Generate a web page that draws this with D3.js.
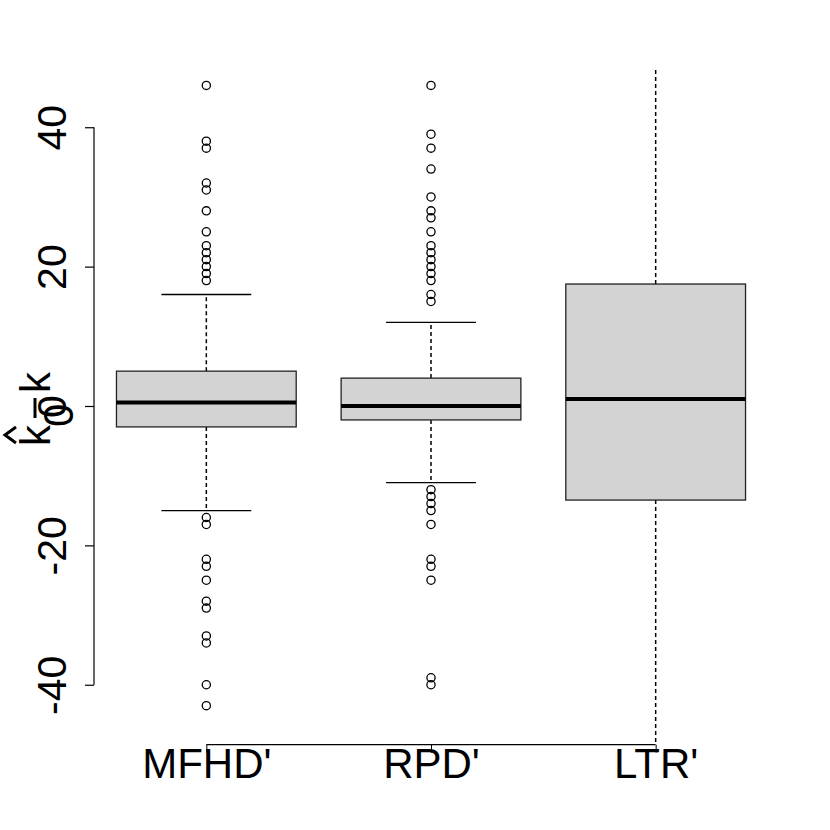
<!DOCTYPE html>
<html>
<head>
<meta charset="utf-8">
<script src="https://cdn.jsdelivr.net/npm/d3@7"></script>
<style>
  body { margin: 0; background: #fff; }
  svg { font-family: "Liberation Sans", Arial, Helvetica, sans-serif; }
</style>
</head>
<body>
<svg id="chart"></svg>
<script>
const categories = ["MFHD'", "RPD'", "LTR'"];
const q1 = [-3, -2, -13.5];
const medians = [0.5, 0, 1];
const q3 = [5, 4, 17.5];
const whiskerLow = [-15, -11, -60];
const whiskerHigh = [16, 12, 60];
const outliersMFHD = [46, 38, 37, 32, 31, 28, 25, 23, 22, 21, 20, 19, 18,
                      -16, -17, -22, -23, -25, -28, -29, -33, -34, -40, -43];
const outliersRPD = [46, 39, 37, 34, 30, 28, 27, 25, 23, 22, 21, 20, 19, 18, 16, 15,
                     -12, -13, -14, -15, -17, -22, -23, -25, -39, -40];
const outliersLTR = [];
const yTicks = [-40, -20, 0, 20, 40];

const outliers = [outliersMFHD, outliersRPD, outliersLTR];

const width = 830, height = 830;
const plot = {left: 94, right: 768, top: 67.3, bottom: 744.7};

const svg = d3.select("#chart")
    .attr("width", width)
    .attr("height", height);

const x = d3.scaleLinear()
    .domain([0.5, 3.5])
    .range([plot.left, plot.right]);

const y = d3.scaleLinear()
    .domain([-48.6, 48.6])
    .range([plot.bottom, plot.top]);

const boxW = x(1.4) - x(1);   // half box width (0.4 units)
const stapleW = boxW / 2;

svg.append("clipPath")
    .attr("id", "clip")
  .append("rect")
    .attr("x", plot.left)
    .attr("y", plot.top)
    .attr("width", plot.right - plot.left)
    .attr("height", plot.bottom - plot.top);

const boxes = svg.append("g").attr("clip-path", "url(#clip)");

categories.forEach((c, i) => {
    const cx = x(i + 1);
    const g = boxes.append("g");

    // whiskers
    g.append("line")
        .attr("x1", cx).attr("x2", cx)
        .attr("y1", y(q3[i])).attr("y2", y(whiskerHigh[i]))
        .attr("stroke", "#000").attr("stroke-width", 1.5)
        .attr("stroke-dasharray", "4,3");
    g.append("line")
        .attr("x1", cx).attr("x2", cx)
        .attr("y1", y(q1[i])).attr("y2", y(whiskerLow[i]))
        .attr("stroke", "#000").attr("stroke-width", 1.5)
        .attr("stroke-dasharray", "4,3");

    // staples
    [whiskerLow[i], whiskerHigh[i]].forEach(v => {
        g.append("line")
            .attr("x1", cx - stapleW).attr("x2", cx + stapleW)
            .attr("y1", y(v)).attr("y2", y(v))
            .attr("stroke", "#000").attr("stroke-width", 1.3);
    });

    // box
    g.append("rect")
        .attr("x", cx - boxW)
        .attr("y", y(q3[i]))
        .attr("width", boxW * 2)
        .attr("height", y(q1[i]) - y(q3[i]))
        .attr("fill", "#d3d3d3")
        .attr("stroke", "#222")
        .attr("stroke-width", 1.3);

    // median
    g.append("line")
        .attr("x1", cx - boxW).attr("x2", cx + boxW)
        .attr("y1", y(medians[i])).attr("y2", y(medians[i]))
        .attr("stroke", "#000").attr("stroke-width", 4);

    // outliers
    g.selectAll("circle")
        .data(outliers[i])
      .enter().append("circle")
        .attr("cx", cx)
        .attr("cy", d => y(d))
        .attr("r", 4.1)
        .attr("fill", "none")
        .attr("stroke", "#000")
        .attr("stroke-width", 1.3);
});

// Y axis
const yAxis = svg.append("g")
    .attr("transform", `translate(${plot.left},0)`)
    .call(d3.axisLeft(y).tickValues(yTicks).tickSize(9).tickFormat(d3.format("d")));
yAxis.select(".domain").remove();
yAxis.selectAll(".tick line").attr("stroke-width", 1.2);
yAxis.append("line")
    .attr("x1", 0).attr("x2", 0)
    .attr("y1", y(d3.min(yTicks))).attr("y2", y(d3.max(yTicks)))
    .attr("stroke", "#000")
    .attr("stroke-width", 1.2);
yAxis.selectAll(".tick text")
    .attr("x", 0)
    .attr("y", -28)
    .attr("dy", 0)
    .attr("transform", "rotate(-90)")
    .attr("text-anchor", "middle")
    .attr("fill", "#000")
    .style("font-size", "41px")
    .style("font-family", "\"Liberation Sans\", Arial, sans-serif")
    .text(d => d < 0 ? "-" + Math.abs(d) : d);

// X axis
const xAxis = svg.append("g")
    .attr("transform", `translate(0,${plot.bottom})`)
    .call(d3.axisBottom(x).tickValues([1, 2, 3]).tickSize(8).tickFormat(d => categories[d - 1]));
xAxis.select(".domain").remove();
xAxis.append("line")
    .attr("x1", x(1)).attr("x2", x(categories.length))
    .attr("y1", 0).attr("y2", 0)
    .attr("stroke", "#000")
    .attr("stroke-width", 1.2);
xAxis.selectAll(".tick text")
    .attr("y", 33)
    .attr("dy", 0)
    .attr("fill", "#000")
    .style("font-size", "42px")
    .style("font-family", "\"Liberation Sans\", Arial, sans-serif");

// Y label: k-hat subscript 0 minus k (rotated)
const lab = svg.append("g")
    .attr("transform", "translate(50,406) rotate(-90)")
    .style("font-size", "42px");
lab.append("text").attr("x", -40).attr("y", 0).text("k");
lab.append("path")
    .attr("d", "M-37,-34 L-29,-45 L-21,-34")
    .attr("fill", "none").attr("stroke", "#000").attr("stroke-width", 3);
lab.append("text").attr("x", -21).attr("y", 23).text("0");
lab.append("line")
    .attr("x1", -12).attr("x2", 8)
    .attr("y1", -15).attr("y2", -15)
    .attr("stroke", "#000").attr("stroke-width", 3);
lab.append("text").attr("x", 13).attr("y", 0).text("k");
</script>
</body>
</html>
